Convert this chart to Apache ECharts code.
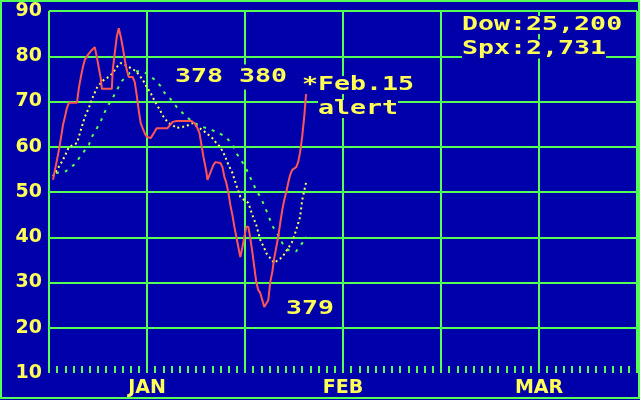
<!DOCTYPE html>
<html><head><meta charset="utf-8">
<script src="https://cdn.jsdelivr.net/npm/echarts@6/dist/echarts.min.js"></script>
<style>html,body{margin:0;padding:0;background:#0000AA;}#c{width:640px;height:400px;}</style>
</head><body><div id="c"></div>
<script>
// ---- data ----
const yTickValues = [10, 20, 30, 40, 50, 60, 70, 80, 90];
const monthLabels = ['JAN', 'FEB', 'MAR'];
const monthTickPos = [12, 36, 60];

// red solid line (daily index)
const redPoints = [[0.49,52.7],[0.73,54.9],[0.98,57.1],[1.22,59.3],[1.46,61.9],[1.71,64.8],[1.95,66.6],[2.2,68.6],[2.44,69.7],[3.42,69.7],[3.66,73.0],[3.9,75.4],[4.15,77.6],[4.39,79.2],[4.76,80.3],[5.25,81.4],[5.61,82.0],[5.86,79.8],[6.1,77.4],[6.35,75.0],[6.47,72.8],[7.69,72.8],[7.81,77.0],[8.05,80.7],[8.3,84.3],[8.54,86.2],[8.79,84.3],[9.03,82.0],[9.28,79.2],[9.52,77.0],[9.76,75.4],[10.25,75.4],[10.5,74.3],[10.74,71.4],[10.98,68.1],[11.23,65.2],[11.47,64.1],[11.72,63.0],[11.96,62.2],[12.45,61.9],[12.94,63.3],[13.18,64.1],[14.52,64.1],[15.13,65.5],[15.62,65.7],[17.45,65.7],[17.82,65.2],[18.18,64.1],[18.43,63.0],[18.67,60.4],[18.92,57.7],[19.28,54.4],[19.4,52.7],[19.65,53.8],[19.89,54.9],[20.14,56.0],[20.38,56.6],[20.62,56.6],[20.99,56.4],[21.24,55.5],[21.48,53.3],[21.72,52.0],[21.97,49.8],[22.21,47.1],[22.46,44.9],[22.7,42.3],[22.94,40.1],[23.19,37.8],[23.43,35.6],[23.68,37.8],[23.92,40.1],[24.16,42.3],[24.41,42.3],[24.65,39.8],[24.9,36.7],[25.14,33.4],[25.38,30.1],[25.63,28.3],[25.87,27.7],[26.12,26.1],[26.36,24.6],[26.6,24.4],[26.85,26.1],[27.09,30.1],[27.34,32.3],[27.58,35.4],[27.83,37.8],[28.07,40.1],[28.31,43.1],[28.56,46.0],[28.8,48.2],[29.05,50.0],[29.29,52.0],[29.53,53.8],[29.78,54.9],[30.27,55.5],[30.51,56.6],[30.75,58.8],[31.0,62.2],[31.24,66.4],[31.49,71.9]];

// yellow dotted line (short average)
const yellowPoints = [[0.49,53.5],[0.98,54.9],[1.71,57.1],[2.44,59.9],[2.93,60.4],[3.42,60.8],[3.9,63.7],[4.39,66.6],[4.88,68.6],[5.37,71.0],[5.86,73.0],[6.1,73.6],[6.83,75.0],[7.32,75.4],[7.81,76.3],[8.3,77.6],[8.79,78.5],[9.28,78.1],[9.76,77.6],[10.25,77.2],[10.74,76.5],[11.23,75.4],[11.72,74.1],[11.96,73.2],[12.45,71.9],[12.94,70.1],[13.42,68.6],[14.03,66.6],[14.64,65.2],[15.13,64.8],[15.62,64.1],[16.11,64.4],[16.6,64.4],[17.09,64.8],[17.57,65.2],[18.18,64.4],[18.79,63.7],[19.28,63.0],[20.01,61.9],[20.5,60.8],[20.99,59.9],[21.48,58.2],[21.97,56.0],[22.46,54.2],[22.94,51.5],[23.43,48.9],[23.92,48.2],[24.41,47.6],[24.9,44.9],[25.38,42.7],[25.87,39.4],[26.36,37.6],[26.6,36.5],[27.09,35.4],[27.58,34.3],[28.07,35.0],[28.56,35.6],[29.29,37.6],[29.78,39.0],[30.27,41.6],[30.75,44.5],[31.0,48.2],[31.49,52.2]];

// green dotted line (long average)
const greenPoints = [[0.85,54.2],[2.07,54.6],[3.05,56.0],[3.78,57.7],[4.88,60.4],[5.25,62.2],[5.86,64.1],[6.35,65.7],[6.83,67.7],[7.32,69.4],[7.81,70.8],[8.3,72.5],[8.91,74.5],[9.89,76.3],[10.86,76.7],[11.84,76.3],[12.81,75.0],[13.67,73.4],[14.16,71.9],[14.77,70.8],[15.62,68.8],[16.84,66.6],[17.82,65.2],[18.79,64.4],[19.65,63.9],[20.5,63.3],[21.6,62.2],[22.46,60.6],[22.94,58.6],[23.68,56.6],[24.41,54.2],[24.9,52.2],[25.38,50.4],[25.99,48.5],[26.48,46.5],[26.97,44.3],[27.34,42.5],[27.83,41.2],[28.19,40.1],[28.56,38.7],[29.29,37.2],[30.27,36.9],[31.0,38.7],[31.49,40.1]];

const noteTexts = ['378 380', '*Feb.15', 'alert', '379', 'Dow:25,200', 'Spx:2,731'];

// ---- styling ----
const BLUE = '#0000AA', GREEN = '#55FF55', YELLOW = '#FFFF55', RED = '#FF5555';
const chart = echarts.init(document.getElementById('c'), null, {renderer: 'canvas'});

function note(text, x, y, pad) {
  return {
    type: 'text', x: x, y: y, scaleX: 1.4, z: 100,
    style: {
      text: text, x: 0, y: 0,
      fontFamily: 'DejaVu Sans Mono', fontWeight: 'bold', fontSize: 19,
      fill: YELLOW, align: 'left', verticalAlign: 'middle',
      lineHeight: 16, backgroundColor: BLUE, padding: pad || [1, 0, 1, 0]
    }
  };
}

chart.setOption({
  animation: false,
  backgroundColor: BLUE,
  grid: {left: 49, right: 1, top: 11, bottom: 27, containLabel: false},
  xAxis: {
    type: 'value', min: 0, max: 72, interval: 12,
    axisLine: {show: false},
    axisTick: {show: false, inside: true},
    minorTick: {show: true, splitNumber: 12, length: 7, lineStyle: {color: GREEN, width: 2}},
    splitLine: {show: true, lineStyle: {color: GREEN, width: 2}},
    axisLabel: {
      color: YELLOW, fontFamily: 'DejaVu Sans', fontWeight: 'bold', fontSize: 19, margin: 6,
      formatter: function (v) { const i = monthTickPos.indexOf(v); return i >= 0 ? monthLabels[i] : ''; }
    }
  },
  yAxis: {
    type: 'value', min: yTickValues[0], max: yTickValues[yTickValues.length - 1], interval: 10,
    axisLine: {show: false}, axisTick: {show: false},
    splitLine: {show: true, showMinLine: false, lineStyle: {color: GREEN, width: 2}},
    axisLabel: {color: YELLOW, fontFamily: 'DejaVu Sans', fontWeight: 'bold', fontSize: 19, margin: 7}
  },
  series: [
    {type: 'line', data: greenPoints, symbol: 'none', z: 3,
     lineStyle: {color: GREEN, width: 2, type: [3, 6], cap: 'butt'}},
    {type: 'line', data: yellowPoints, symbol: 'none', z: 4,
     lineStyle: {color: YELLOW, width: 2, type: [2, 3], cap: 'butt'}},
    {type: 'line', data: redPoints, symbol: 'none', z: 5,
     lineStyle: {color: RED, width: 2}}
  ],
  graphic: [
    {type: 'rect', z: 100, shape: {x: 1, y: 1, width: 638, height: 397},
     style: {fill: 'none', stroke: GREEN, lineWidth: 2}},
    note(noteTexts[0], 175, 77, [8, 0, 1, 0]),
    note(noteTexts[1], 302, 85),
    note(noteTexts[2], 318, 109),
    note(noteTexts[3], 286, 309),
    note(noteTexts[4], 462, 25),
    note(noteTexts[5], 462, 49, [1, 0, 2, 0])
  ]
});
</script></body></html>
